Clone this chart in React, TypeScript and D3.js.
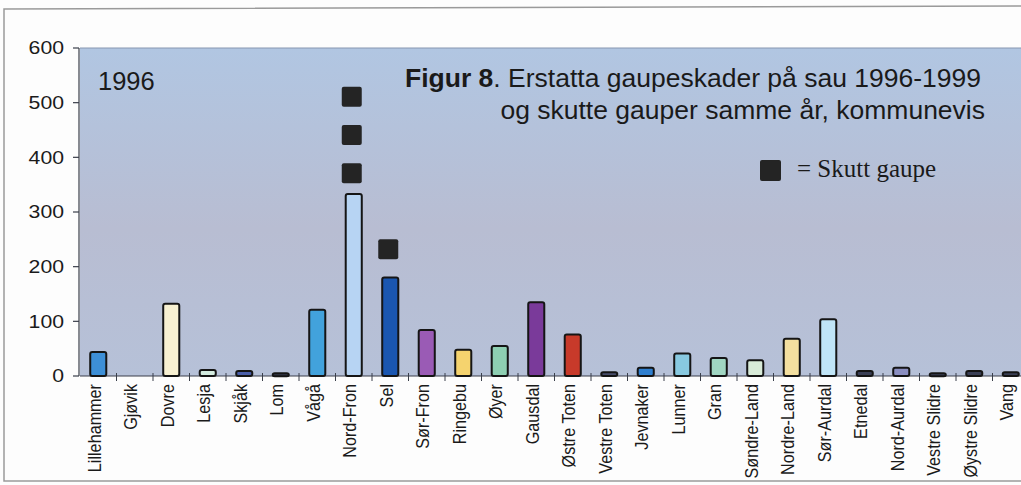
import React from "react";
import * as d3 from "d3";

// kommuner i Oppland, erstatta sau 1996
const kommuner = [
  "Lillehammer", "Gjøvik", "Dovre", "Lesja", "Skjåk", "Lom", "Vågå", "Nord-Fron",
  "Sel", "Sør-Fron", "Ringebu", "Øyer", "Gausdal", "Østre Toten", "Vestre Toten",
  "Jevnaker", "Lunner", "Gran", "Søndre-Land", "Nordre-Land", "Sør-Aurdal",
  "Etnedal", "Nord-Aurdal", "Vestre Slidre", "Øystre Slidre", "Vang",
];
const erstatta = [
  44, 0, 132, 11, 9, 5, 121, 333, 180, 84, 48, 55, 135, 76, 7, 15, 41, 33, 29, 68,
  104, 9, 15, 5, 9, 7,
];
const barColors = [
  "#3d8fd6", "#cccccc", "#f8f1d2", "#d3ebdf", "#4a5ea8", "#34384a", "#42a2dc", "#b7d4f3",
  "#1a56b0", "#9a5bb5", "#f5d36e", "#8ecfb2", "#7a3a9a", "#c83a2a", "#484e6c",
  "#2f7fcf", "#88c9e0", "#a0d6c2", "#d8ebd8", "#f3df9f", "#c0e5f7",
  "#3a3f55", "#8a8ec0", "#3a3f55", "#3a3f55", "#3a3f55",
];
// skutte gauper, plassert som i figuren
const skuttKommune = ["Nord-Fron", "Nord-Fron", "Nord-Fron", "Sel"];
const skuttNivaa = [371, 441, 511, 232];
const yTicks = [0, 100, 200, 300, 400, 500, 600];

const W = 1021;
const H = 485;
const plot = { left: 80, right: 1029, top: 48, bottom: 376 };
const sans = "'Liberation Sans', Arial, sans-serif";

export default function App() {
  const x = d3
    .scaleBand<string>()
    .domain(kommuner)
    .range([plot.left, plot.right])
    .padding(0);
  const y = d3.scaleLinear().domain([0, 600]).range([plot.bottom, plot.top]);
  const bw = x.bandwidth() * 0.44;
  const sq = 20;

  return (
    <svg
      width={W}
      height={H}
      style={{ position: "absolute", left: 0, top: 0, background: "#fdfdfd" }}
    >
      <defs>
        <linearGradient id="bg" x1="0" y1="0" x2="0" y2="1">
          <stop offset="0" stopColor="#b1c6e2" />
          <stop offset="0.55" stopColor="#b8bdd2" />
          <stop offset="1" stopColor="#b6c1d8" />
        </linearGradient>
      </defs>

      {/* ramme */}
      <path d={`M${W},6 L4,9 L4,481 L${W},481`} fill="none" stroke="#9a9a9a" strokeWidth={1.5} />

      <rect
        x={plot.left}
        y={plot.top}
        width={W - plot.left}
        height={plot.bottom - plot.top}
        fill="url(#bg)"
      />
      <line x1={plot.left} x2={W} y1={plot.top} y2={plot.top} stroke="#8796b0" strokeWidth={1} />

      {/* y-akse */}
      <line x1={plot.left - 1} x2={plot.left - 1} y1={plot.top} y2={plot.bottom} stroke="#3a3f4a" strokeWidth={1.2} />
      {yTicks.map((t) => (
        <g key={t}>
          <line x1={plot.left - 7} x2={plot.left - 1} y1={y(t)} y2={y(t)} stroke="#3a3f4a" strokeWidth={1.2} />
          <g transform={`translate(64,${y(t)}) scale(1.18,1)`}>
            <text dy="0.36em" textAnchor="end" fontFamily={sans} fontSize={18} fill="#1a1a1a">
              {t}
            </text>
          </g>
        </g>
      ))}

      {/* x-akse */}
      <line x1={plot.left} x2={W} y1={plot.bottom} y2={plot.bottom} stroke="#3a3f4a" strokeWidth={1.2} />
      {kommuner.map((k) => (
        <line
          key={"t" + k}
          x1={(x(k) ?? 0) + x.bandwidth()}
          x2={(x(k) ?? 0) + x.bandwidth()}
          y1={plot.bottom - 3}
          y2={plot.bottom + 5}
          stroke="#3a3f4a"
          strokeWidth={1}
        />
      ))}

      {/* stolper */}
      {kommuner.map((k, i) =>
        erstatta[i] > 0 ? (
          <rect
            key={"b" + k}
            x={(x(k) ?? 0) + (x.bandwidth() - bw) / 2}
            y={y(erstatta[i])}
            width={bw}
            height={Math.max(3, y(0) - y(erstatta[i]))}
            rx={2}
            fill={barColors[i]}
            stroke="#151515"
            strokeWidth={2}
          />
        ) : null
      )}

      {/* skutte gauper */}
      {skuttKommune.map((k, i) => (
        <rect
          key={"s" + i}
          x={(x(k) ?? 0) + x.bandwidth() / 2 - 2 - sq / 2}
          y={y(skuttNivaa[i]) - sq / 2}
          width={sq}
          height={sq}
          rx={2}
          fill="#242424"
        />
      ))}

      {/* kategorietiketter */}
      {kommuner.map((k) => {
        const cx = (x(k) ?? 0) + x.bandwidth() / 2 - 4;
        return (
          <g key={"l" + k} transform={`translate(${cx},${plot.bottom + 8}) rotate(-90) scale(1,1.12)`}>
            <text dy="0.36em" textAnchor="end" fontFamily={sans} fontSize={16.2} fill="#1a1a1a">
              {k}
            </text>
          </g>
        );
      })}

      <text x={98} y={90} fontFamily={sans} fontSize={25.5} fill="#1a1a1a">
        1996
      </text>

      <text x={981} y={87} textAnchor="end" fontFamily={sans} fontSize={26.5} fill="#1a1a1a">
        <tspan fontWeight="bold">Figur 8</tspan>. Erstatta gaupeskader på sau 1996-1999
      </text>
      <text x={985} y={119} textAnchor="end" fontFamily={sans} fontSize={26.5} fill="#1a1a1a">
        og skutte gauper samme år, kommunevis
      </text>

      {/* forklaring */}
      <rect x={760} y={160} width={21} height={21} rx={2} fill="#242424" />
      <text x={797} y={177} fontFamily="'Liberation Serif', 'Times New Roman', serif" fontSize={25} fill="#1a1a1a">
        = Skutt gaupe
      </text>
    </svg>
  );
}
